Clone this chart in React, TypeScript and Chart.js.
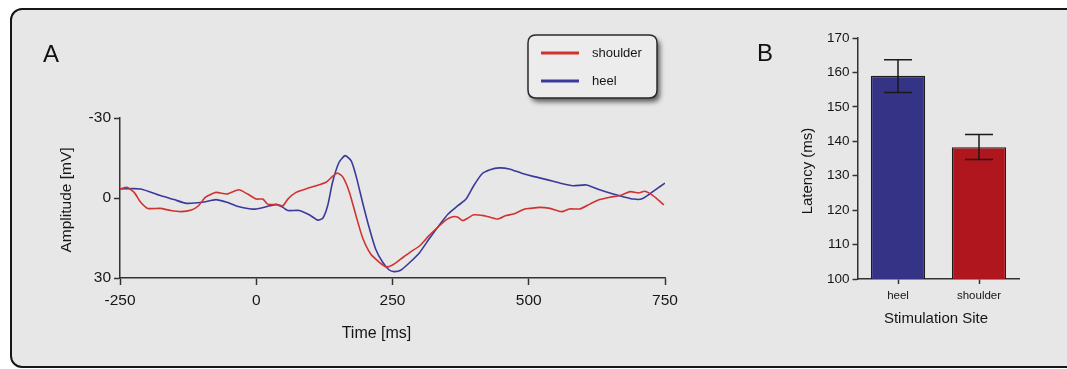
import React, { useEffect, useRef } from "react";
import { Chart, registerables } from "chart.js";

Chart.register(...registerables);

// ---------- Panel A data: evoked potentials ----------
const heelTime = [
  -250, -212, -176, -151, -128, -99, -74, -54, -35, -10, 0, 18, 37, 49, 58, 79, 98, 113, 122, 131, 140, 152, 163,
  174, 183, 195, 207, 219, 232, 244, 253, 265, 282, 300, 317, 335, 352, 370, 385, 399, 414, 429, 446, 464, 487, 508,
  533, 557, 581, 606, 630, 655, 673, 692, 707, 722, 736, 750,
];
const heelAmp = [
  -3.4, -3.4, -0.9, 0.6, 2.0, 1.6, 0.6, 1.6, 3.1, 4.1, 4.1, 3.3, 2.4, 3.5, 4.7, 4.7, 6.4, 8.3, 7.6, 2.9, -5.9, -13.4,
  -15.9, -14.0, -8.4, 1.6, 11.0, 19.1, 24.1, 27.0, 27.6, 27.1, 24.1, 20.4, 15.4, 10.4, 6.0, 2.9, 0.4, -4.6, -9.0,
  -10.6, -11.3, -10.9, -9.3, -8.1, -6.9, -5.6, -4.6, -4.9, -3.1, -1.5, -0.5, 0.4, 0.4, -1.5, -3.6, -5.6,
];
const shoulderTime = [
  -250, -237, -224, -212, -199, -176, -157, -138, -119, -106, -93, -74, -54, -32, -16, 0, 12, 21, 37, 49, 58, 73, 91,
  110, 128, 140, 149, 159, 171, 183, 195, 210, 226, 238, 250, 265, 282, 300, 317, 335, 349, 361, 370, 379, 388, 399,
  417, 429, 443, 458, 472, 493, 502, 520, 539, 560, 575, 594, 612, 630, 649, 667, 686, 701, 713, 728, 748,
];
const shoulderAmp = [
  -3.4, -4.0, -2.1, 1.6, 3.9, 3.9, 4.7, 5.1, 4.5, 2.9, -0.3, -2.1, -1.5, -3.1, -1.5, 0.4, 0.4, 2.3, 2.5, 2.9, 0.4,
  -2.1, -3.4, -4.6, -5.9, -8.1, -9.4, -7.8, -2.1, 6.6, 14.8, 21.0, 24.1, 25.8, 25.1, 22.9, 20.4, 17.9, 14.1, 10.6,
  8.1, 7.0, 7.2, 8.5, 7.6, 6.3, 6.6, 7.2, 7.9, 6.6, 6.0, 4.1, 3.9, 3.5, 3.9, 5.1, 4.1, 4.1, 2.3, 0.6, -0.3, -0.9,
  -2.4, -1.9, -2.5, -0.9, 2.6,
];
const timeTicks = [-250, 0, 250, 500, 750];
const ampTicks = [-30, 0, 30];

// ---------- Panel B data: latency ----------
const sites = ["heel", "shoulder"];
const latencyMean = [159.0, 138.3];
const latencyLow = [154.2, 134.7];
const latencyHigh = [163.7, 142.0];
const latencyTicks = [100, 110, 120, 130, 140, 150, 160, 170];

// ---------- Styles ----------
const FONT = "'Liberation Sans', Arial, Helvetica, sans-serif";
const AX = "#333333";
const TXT = "#161616";
const RED_LINE = "#d0332f";
const BLUE_LINE = "#3b3a9c";
const HEEL_BAR = "#343386";
const SHOULDER_BAR = "#b0161e";

function roundRect(ctx: CanvasRenderingContext2D, x: number, y: number, w: number, h: number, r: number) {
  ctx.beginPath();
  ctx.moveTo(x + r, y);
  ctx.lineTo(x + w - r, y);
  ctx.quadraticCurveTo(x + w, y, x + w, y + r);
  ctx.lineTo(x + w, y + h - r);
  ctx.quadraticCurveTo(x + w, y + h, x + w - r, y + h);
  ctx.lineTo(x + r, y + h);
  ctx.quadraticCurveTo(x, y + h, x, y + h - r);
  ctx.lineTo(x, y + r);
  ctx.quadraticCurveTo(x, y, x + r, y);
  ctx.closePath();
}

const panelAOverlay = {
  id: "panelAOverlay",
  afterDraw(chart: any) {
    const ctx: CanvasRenderingContext2D = chart.ctx;
    const ca = chart.chartArea;
    ctx.save();
    // panel letter
    ctx.fillStyle = "#111";
    ctx.font = `24px ${FONT}`;
    ctx.textAlign = "left";
    ctx.textBaseline = "alphabetic";
    ctx.fillText("A", 31, 50);
    // y title
    ctx.font = `15.5px ${FONT}`;
    ctx.fillStyle = TXT;
    ctx.save();
    ctx.translate(ca.left - 53, (ca.top + ca.bottom) / 2 + 2);
    ctx.rotate(-Math.PI / 2);
    ctx.textAlign = "center";
    ctx.textBaseline = "middle";
    ctx.fillText("Amplitude [mV]", 0, 0);
    ctx.restore();
    // x title
    ctx.textAlign = "center";
    ctx.textBaseline = "middle";
    ctx.font = `16px ${FONT}`;
    ctx.fillText("Time [ms]", (ca.left + ca.right) / 2 - 16, ca.bottom + 56);
    // legend
    const lx = 516, ly = 23, lw = 129, lh = 63;
    ctx.save();
    ctx.shadowColor = "rgba(0,0,0,0.6)";
    ctx.shadowBlur = 5;
    ctx.shadowOffsetX = 3;
    ctx.shadowOffsetY = 4;
    roundRect(ctx, lx, ly, lw, lh, 8);
    ctx.fillStyle = "#ececec";
    ctx.fill();
    ctx.restore();
    roundRect(ctx, lx, ly, lw, lh, 8);
    ctx.strokeStyle = "#2a2a2a";
    ctx.lineWidth = 1.5;
    ctx.stroke();
    chart.data.datasets.forEach((ds: any, i: number) => {
      const yy = ly + 18 + i * 28;
      ctx.beginPath();
      ctx.moveTo(lx + 13, yy);
      ctx.lineTo(lx + 51, yy);
      ctx.strokeStyle = ds.borderColor;
      ctx.lineWidth = 3;
      ctx.stroke();
      ctx.fillStyle = TXT;
      ctx.font = `13px ${FONT}`;
      ctx.textAlign = "left";
      ctx.textBaseline = "middle";
      ctx.fillText(ds.label, lx + 64, yy);
    });
    ctx.restore();
  },
};

const panelBOverlay = {
  id: "panelBOverlay",
  afterDatasetsDraw(chart: any) {
    const ctx: CanvasRenderingContext2D = chart.ctx;
    const meta = chart.getDatasetMeta(0);
    const ys = chart.scales.y;
    ctx.save();
    ctx.strokeStyle = "#1a1a1a";
    ctx.lineWidth = 1.5;
    meta.data.forEach((bar: any, i: number) => {
      const x = bar.x;
      const yl = ys.getPixelForValue(latencyLow[i]);
      const yh = ys.getPixelForValue(latencyHigh[i]);
      ctx.beginPath();
      ctx.moveTo(x, yl);
      ctx.lineTo(x, yh);
      ctx.moveTo(x - 14, yl);
      ctx.lineTo(x + 14, yl);
      ctx.moveTo(x - 14, yh);
      ctx.lineTo(x + 14, yh);
      ctx.stroke();
    });
    ctx.restore();
  },
  afterDraw(chart: any) {
    const ctx: CanvasRenderingContext2D = chart.ctx;
    const ca = chart.chartArea;
    ctx.save();
    ctx.fillStyle = "#111";
    ctx.font = `24px ${FONT}`;
    ctx.textAlign = "left";
    ctx.textBaseline = "alphabetic";
    ctx.fillText("B", 27, 49);
    ctx.fillStyle = TXT;
    ctx.font = `15px ${FONT}`;
    ctx.save();
    ctx.translate(ca.left - 49.5, (ca.top + ca.bottom) / 2 + 12.5);
    ctx.rotate(-Math.PI / 2);
    ctx.textAlign = "center";
    ctx.textBaseline = "middle";
    ctx.fillText("Latency (ms)", 0, 0);
    ctx.restore();
    ctx.textAlign = "center";
    ctx.textBaseline = "middle";
    ctx.fillText("Stimulation Site", (ca.left + ca.right) / 2 - 2.5, ca.bottom + 40);
    ctx.restore();
  },
};

export default function App() {
  const refA = useRef<HTMLCanvasElement>(null);
  const refB = useRef<HTMLCanvasElement>(null);

  useEffect(() => {
    const chartA = new Chart(refA.current as HTMLCanvasElement, {
      type: "line",
      data: {
        datasets: [
          {
            label: "shoulder",
            data: shoulderTime.map((t, i) => ({ x: t, y: shoulderAmp[i] })),
            borderColor: RED_LINE,
            borderWidth: 1.6,
            pointRadius: 0,
            tension: 0.2,
            fill: false,
          },
          {
            label: "heel",
            data: heelTime.map((t, i) => ({ x: t, y: heelAmp[i] })),
            borderColor: BLUE_LINE,
            borderWidth: 1.6,
            pointRadius: 0,
            tension: 0.2,
            fill: false,
          },
        ],
      },
      options: {
        responsive: false,
        animation: false,
        layout: { padding: { left: 55, top: 106, right: 55, bottom: 12 } },
        plugins: { legend: { display: false }, tooltip: { enabled: false } },
        scales: {
          x: {
            type: "linear",
            min: timeTicks[0],
            max: timeTicks[timeTicks.length - 1],
            afterBuildTicks: (s: any) => {
              s.ticks = timeTicks.map((v) => ({ value: v }));
            },
            afterFit: (s: any) => {
              s.height = 68;
            },
            grid: { drawOnChartArea: false, drawTicks: true, tickLength: 7, tickColor: AX, tickWidth: 1.5 },
            border: { display: true, color: AX, width: 1.5 },
            ticks: { font: { family: FONT, size: 15.5 }, color: TXT, padding: 6, maxRotation: 0 },
          },
          y: {
            type: "linear",
            min: ampTicks[0],
            max: ampTicks[ampTicks.length - 1],
            reverse: true,
            afterBuildTicks: (s: any) => {
              s.ticks = ampTicks.map((v) => ({ value: v }));
            },
            afterFit: (s: any) => {
              s.width = 53;
            },
            grid: { drawOnChartArea: false, drawTicks: true, tickLength: 6, tickColor: AX, tickWidth: 1.5 },
            border: { display: true, color: AX, width: 1.5 },
            ticks: { font: { family: FONT, size: 15.5 }, color: TXT, padding: 3 },
          },
        },
      },
      plugins: [panelAOverlay],
    } as any);

    const chartB = new Chart(refB.current as HTMLCanvasElement, {
      type: "bar",
      data: {
        labels: sites,
        datasets: [
          {
            label: "Latency",
            data: latencyMean,
            backgroundColor: [HEEL_BAR, SHOULDER_BAR],
            borderColor: "#1c1c1c",
            borderWidth: 1.3,
            borderSkipped: false,
            categoryPercentage: 1,
            barPercentage: 0.67,
          },
        ],
      },
      options: {
        responsive: false,
        animation: false,
        layout: { padding: { left: 87.5, top: 26, right: 40.5, bottom: 29 } },
        plugins: { legend: { display: false }, tooltip: { enabled: false } },
        scales: {
          x: {
            afterFit: (s: any) => {
              s.height = 50;
            },
            grid: { offset: false, drawOnChartArea: false, drawTicks: true, tickLength: 5, tickColor: AX, tickWidth: 1.5 },
            border: { display: true, color: AX, width: 1.5 },
            ticks: { font: { family: FONT, size: 11.5 }, color: TXT, padding: 5 },
          },
          y: {
            min: latencyTicks[0],
            max: latencyTicks[latencyTicks.length - 1],
            afterBuildTicks: (s: any) => {
              s.ticks = latencyTicks.map((v) => ({ value: v }));
            },
            afterFit: (s: any) => {
              s.width = 40;
            },
            grid: { drawOnChartArea: false, drawTicks: true, tickLength: 5, tickColor: AX, tickWidth: 1.5 },
            border: { display: true, color: AX, width: 1.5 },
            ticks: { font: { family: FONT, size: 13.5 }, color: TXT, padding: 3 },
          },
        },
      },
      plugins: [panelBOverlay],
    } as any);

    return () => {
      chartA.destroy();
      chartB.destroy();
    };
  }, []);

  return (
    <div style={{ position: "fixed", left: 0, top: 0, width: 1067, height: 369, background: "#ffffff", overflow: "hidden" }}>
      <div
        style={{
          position: "absolute",
          left: 10,
          top: 8,
          width: 1090,
          height: 360,
          boxSizing: "border-box",
          border: "2.5px solid #161616",
          borderRadius: 12,
          background: "#e7e7e7",
        }}
      />
      <canvas
        ref={refA}
        width={708}
        height={346}
        style={{ position: "absolute", left: 12, top: 12, width: 708, height: 346 }}
      />
      <canvas
        ref={refB}
        width={330}
        height={346}
        style={{ position: "absolute", left: 730, top: 12, width: 330, height: 346 }}
      />
    </div>
  );
}
